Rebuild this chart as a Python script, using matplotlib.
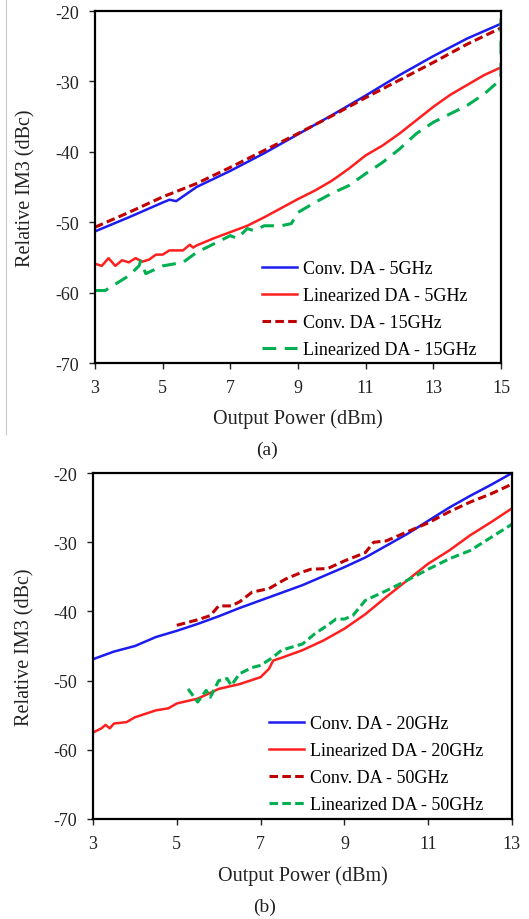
import matplotlib
matplotlib.use("Agg")
import matplotlib.pyplot as plt
from matplotlib.lines import Line2D

plt.rcParams['font.family'] = ['Liberation Serif', 'DejaVu Serif']
plt.rcParams['axes.unicode_minus'] = False

# ---- panel (a) data ----
a_conv5_x = [3, 4, 5, 5.2, 5.4, 6, 7, 8, 9, 10, 11, 12, 13, 14, 15]
a_conv5_y = [-51.3, -49.3, -47.2, -46.8, -47.0, -45.0, -42.7, -40.2, -37.5, -34.8, -32.0, -29.1, -26.4, -23.9, -21.8]

a_lin5_x = [3, 3.2, 3.4, 3.6, 3.8, 4.0, 4.2, 4.4, 4.6, 4.8, 5.0, 5.2, 5.6, 5.8, 5.9, 6.0,
            6.5, 7, 7.5, 8, 8.5, 9, 9.5, 10, 10.5, 11, 11.5, 12, 12.5, 13, 13.5, 14, 14.5, 15]
a_lin5_y = [-55.9, -56.2, -55.1, -56.2, -55.4, -55.7, -55.1, -55.6, -55.3, -54.6, -54.6, -54.0, -54.0,
            -53.2, -53.6, -53.3, -52.3, -51.4, -50.5, -49.3, -48.0, -46.7, -45.5, -44.1, -42.4, -40.5,
            -39.1, -37.4, -35.5, -33.6, -31.9, -30.5, -29.1, -28.0]

a_conv15_x = [3, 4, 5, 6, 7, 8, 9, 10, 11, 12, 13, 14, 15]
a_conv15_y = [-50.7, -48.6, -46.4, -44.5, -42.2, -39.8, -37.4, -34.9, -32.3, -29.8, -27.3, -24.7, -22.4]

a_lin15_x = [3, 3.3, 4.0, 4.3, 4.35, 4.5, 5.0, 5.6, 6.0, 6.5, 7.0, 7.2, 7.5, 7.7, 8.0, 8.5, 8.8,
             9.0, 9.5, 10.0, 10.5, 11.0, 11.5, 12.0, 12.5, 13.0, 13.5, 14.0, 14.5, 14.9, 15.0, 15.0]
a_lin15_y = [-59.7, -59.7, -57.6, -56.2, -55.5, -57.3, -56.2, -55.7, -54.3, -53.1, -51.9, -52.3,
             -50.9, -51.2, -50.5, -50.5, -50.2, -48.6, -47.2, -45.9, -44.8, -43.1, -41.5, -39.6,
             -37.4, -35.8, -34.6, -33.4, -31.8, -30.1, -29.1, -20.0]

# ---- panel (b) data ----
b_conv20_x = [3, 3.5, 4, 4.5, 5, 5.5, 6, 6.5, 7, 7.5, 8, 8.5, 9, 9.5, 10, 10.5, 11, 11.5, 12, 12.5, 13]
b_conv20_y = [-46.9, -45.8, -45.0, -43.7, -42.8, -41.8, -40.7, -39.5, -38.4, -37.3, -36.2, -34.9,
              -33.6, -32.2, -30.5, -28.8, -26.9, -25.0, -23.3, -21.7, -20.0]

b_lin20_x = [3, 3.2, 3.3, 3.4, 3.5, 3.8, 4, 4.5, 4.8, 5, 5.5, 6, 6.5, 7, 7.2, 7.3, 7.5, 8, 8.5,
             9, 9.5, 10, 10.5, 11, 11.5, 12, 12.5, 13]
b_lin20_y = [-57.5, -56.9, -56.4, -56.9, -56.2, -56.0, -55.3, -54.3, -54.0, -53.3, -52.6, -51.2,
             -50.5, -49.5, -48.3, -47.1, -46.7, -45.6, -44.2, -42.5, -40.4, -37.9, -35.5, -33.1,
             -31.2, -29.0, -27.1, -25.1]

b_conv50_x = [5, 5.5, 5.8, 6, 6.3, 6.5, 6.8, 7.2, 7.6, 8, 8.2, 8.6, 9, 9.5, 9.7, 10, 10.5, 11,
              11.5, 12, 12.5, 13]
b_conv50_y = [-42.0, -41.2, -40.6, -39.2, -39.2, -38.6, -37.2, -36.7, -35.3, -34.3, -33.9, -33.8,
              -32.7, -31.5, -30.0, -29.8, -28.5, -27.2, -25.6, -24.2, -23.0, -21.6]

b_lin50_x = [5.27, 5.5, 5.7, 5.8, 6.0, 6.2, 6.3, 6.5, 6.8, 7.0, 7.3, 7.5, 8.0, 8.3, 8.6, 8.8,
             9.0, 9.2, 9.5, 10.0, 10.5, 11.0, 11.5, 12.0, 12.5, 13.0]
b_lin50_y = [-51.2, -53.1, -51.4, -52.4, -50.0, -49.7, -50.7, -49.0, -48.1, -47.8, -46.6, -45.6,
             -44.7, -43.2, -42.0, -41.1, -41.1, -40.6, -38.4, -37.0, -35.5, -33.9, -32.4, -31.2,
             -29.3, -27.4]

blue = '#1c1cf0'
red = '#ff1f1f'
darkred = '#c00000'
green = '#00b050'

fig = plt.figure(figsize=(5.29, 9.2), dpi=100)
ax1 = fig.add_axes([0.1796, 0.6043, 0.7675, 0.3826])
ax2 = fig.add_axes([0.1758, 0.1087, 0.792, 0.376])

ax1.plot(a_conv5_x, a_conv5_y, color=blue, lw=1.8, label='Conv. DA - 5GHz')
ax1.plot(a_lin5_x, a_lin5_y, color=red, lw=1.8, label='Linearized DA - 5GHz')
ax1.plot(a_conv15_x, a_conv15_y, color=darkred, lw=2.2, dashes=(2.8, 1.4), label='Conv. DA - 15GHz')
ax1.plot(a_lin15_x, a_lin15_y, color=green, lw=2.2, dashes=(4.5, 2.8), label='Linearized DA - 15GHz')

ax2.plot(b_conv20_x, b_conv20_y, color=blue, lw=1.8, label='Conv. DA - 20GHz')
ax2.plot(b_lin20_x, b_lin20_y, color=red, lw=1.8, label='Linearized DA - 20GHz')
ax2.plot(b_conv50_x, b_conv50_y, color=darkred, lw=2.2, dashes=(2.8, 1.4), label='Conv. DA - 50GHz')
ax2.plot(b_lin50_x, b_lin50_y, color=green, lw=2.2, dashes=(2.8, 1.4), label='Linearized DA - 50GHz')

panels = [(ax1, 15, (0.411, 0.014), (-0.146, -0.128)),
          (ax2, 13, (0.42, 0.017), (-0.139, -0.133))]
for ax, xmax, leg_anchor, lab_pos in panels:
    ax.set_xlim(3, xmax)
    ax.set_ylim(-70, -20)
    ax.set_xticks(range(3, xmax + 1, 2))
    ax.set_yticks(range(-70, -19, 10))
    ax.tick_params(direction='out', length=4.5, width=1, labelsize=13, pad=7, colors='#222222')
    for s in ax.spines.values():
        s.set_linewidth(1.6)
        s.set_color('black')
    ax.set_xlabel('Output Power (dBm)', fontsize=14.5, color='#222222')
    ax.set_ylabel('Relative IM3 (dBc)', fontsize=14.5, color='#222222')
    ax.yaxis.set_label_coords(lab_pos[0], 0.5)
    ax.xaxis.set_label_coords(0.5, lab_pos[1])
    ax.legend(loc='lower left', bbox_to_anchor=leg_anchor, frameon=False, fontsize=13,
              borderpad=0, borderaxespad=0, handlelength=1.95, handletextpad=0.3,
              labelspacing=0.55)

fig.text(0.505, 1 - 450 / 920, '(a)', ha='center', va='center', fontsize=14, color='#222222')
fig.text(0.50, 1 - 907 / 920, '(b)', ha='center', va='center', fontsize=14, color='#222222')

# thin border line at the left of the top panel
fig.add_artist(Line2D([6 / 529, 6 / 529], [1, 1 - 435 / 920], color='#c8c8c8', lw=0.8))

fig.savefig('out.png', dpi=100)
